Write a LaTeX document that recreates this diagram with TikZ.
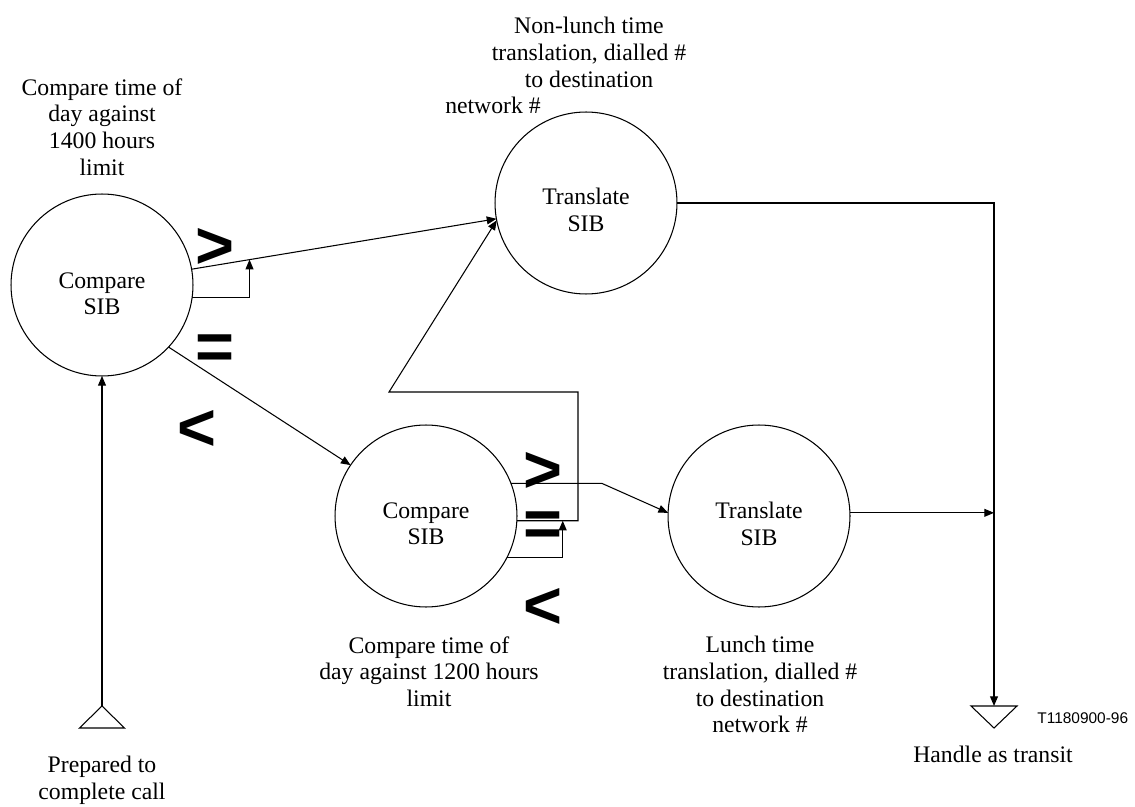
\documentclass[tikz,border=0pt]{standalone}
\usepackage{fontspec}
\setmainfont{Liberation Serif}
\newfontfamily\relfont{Liberation Sans}
\usetikzlibrary{arrows.meta,calc}
\tikzset{
  link/.style={
    line width=0.6pt,
    draw=black
  },
  link-arrow/.style={
    link,
    -{Triangle[length=5.5pt,width=4.5pt]}
  },
  sib/.style={circle, draw=black, line width=0.6pt, minimum size=3.64cm, inner sep=0pt, outer sep=0pt},
  sib-text/.style={align=center, inner sep=0pt, anchor=north, font=\fontsize{13.5}{15.2}\selectfont},
  note/.style={align=center, inner sep=0pt, anchor=north, font=\fontsize{13.5}{15.2}\selectfont},
  rel/.style={inner sep=0pt, font=\relfont\bfseries\fontsize{38}{38}\selectfont},
  terminal/.style={line width=0.6pt, line join=miter}
}

\begin{document}
\begin{tikzpicture}[x=0.02cm, y=-0.02cm]
  \useasboundingbox (0,0) rectangle (1135,807);

  % --- SIB circles ---
  \node[sib] (cmp1) at (102,285) {};
  \node[sib] (trn1) at (586,203) {};
  \node[sib] (cmp2) at (426,516) {};
  \node[sib] (trn2) at (759,516) {};

  \node[sib-text] (cmp1-txt) at ($(cmp1)+(0,-13)$) {Compare\\SIB};
  \node[sib-text] (trn1-txt) at ($(trn1)+(0,-15)$) {Translate\\SIB};
  \node[sib-text] (cmp2-txt) at ($(cmp2)+(0,-14)$) {Compare\\SIB};
  \node[sib-text] (trn2-txt) at ($(trn2)+(0,-14)$) {Translate\\SIB};

  % --- Terminals (apex is the connection point) ---
  \coordinate (prep) at (102,706);
  \coordinate (transit) at (994,706);
  \draw[terminal] (prep) -- ++(-22.5,22) -- ++(45,0) -- cycle;
  \draw[terminal] (transit) -- ++(-23,0) -- ++(23,22) -- ++(23,-22) -- cycle;

  % --- Descriptions ---
  \node[note] (cmp1-note) at (102,78) {Compare time of\\day against\\1400 hours\\limit};
  \node[note] (trn1-note) at (589,17) {Non-lunch time\\translation, dialled \#\\to destination};
  % last line sits left of the circle top
  \node[note] (trn1-note-end) at (493,97) {network \#};
  \node[note] (cmp2-note) at (429,636) {Compare time of\\day against 1200 hours\\limit};
  \node[note] (trn2-note) at (760,636) {Lunch time\\translation, dialled \#\\to destination\\network \#};
  \node[note] (prep-note) at (102,756) {Prepared to\\complete call};
  \node[note] (transit-note) at (993,746) {Handle as transit};
  \node[font=\relfont\fontsize{8.8}{8.8}\selectfont, anchor=base west, inner sep=0pt] (fig-id) at (1037,723) {T1180900-96};

  % --- Comparison outcomes ---
  \node[rel] (cmp1-gt) at (215,248) {>};
  \node[rel] (cmp1-eq) at (215,352) {=};
  \node[rel] (cmp1-lt) at (197,430) {<};
  \node[rel] (cmp2-gt) at (543,472) {>};
  \node[rel] (cmp2-eq) at (543,529) {=};
  \node[rel] (cmp2-lt) at (543,608) {<};

  % --- Connectors ---
  \draw[link-arrow] (prep) -- (cmp1.south);
  \draw[link-arrow] (cmp1.10) -- (trn1.190);
  \draw[link-arrow] (cmp1.-8) -| ($(cmp1.10)!0.19!(trn1.190)$);
  \draw[link-arrow] (cmp1.-43) -- (cmp2.146);

  % second compare: > goes to lunch time, = loops back up to non-lunch
  \draw[link-arrow] (cmp2.21) -- ++(91,0) -- (trn2.178);
  \coordinate (eq-turn) at (578,392);
  \coordinate (eq-bend) at (389,392);
  \coordinate (eq-corner) at (cmp2.-3 -| eq-turn);
  \draw[link-arrow] (cmp2.-3) -| (eq-turn) -- (eq-bend) -- (trn1.191);
  \draw[link-arrow] (cmp2.-27) -| ($(cmp2.-3)!0.75!(eq-corner)$);

  % both translations end in transit
  \draw[link-arrow] (trn1.0) -| (transit);
  \draw[link-arrow] (trn2.2) -- (trn2.2 -| transit);
\end{tikzpicture}
\end{document}
